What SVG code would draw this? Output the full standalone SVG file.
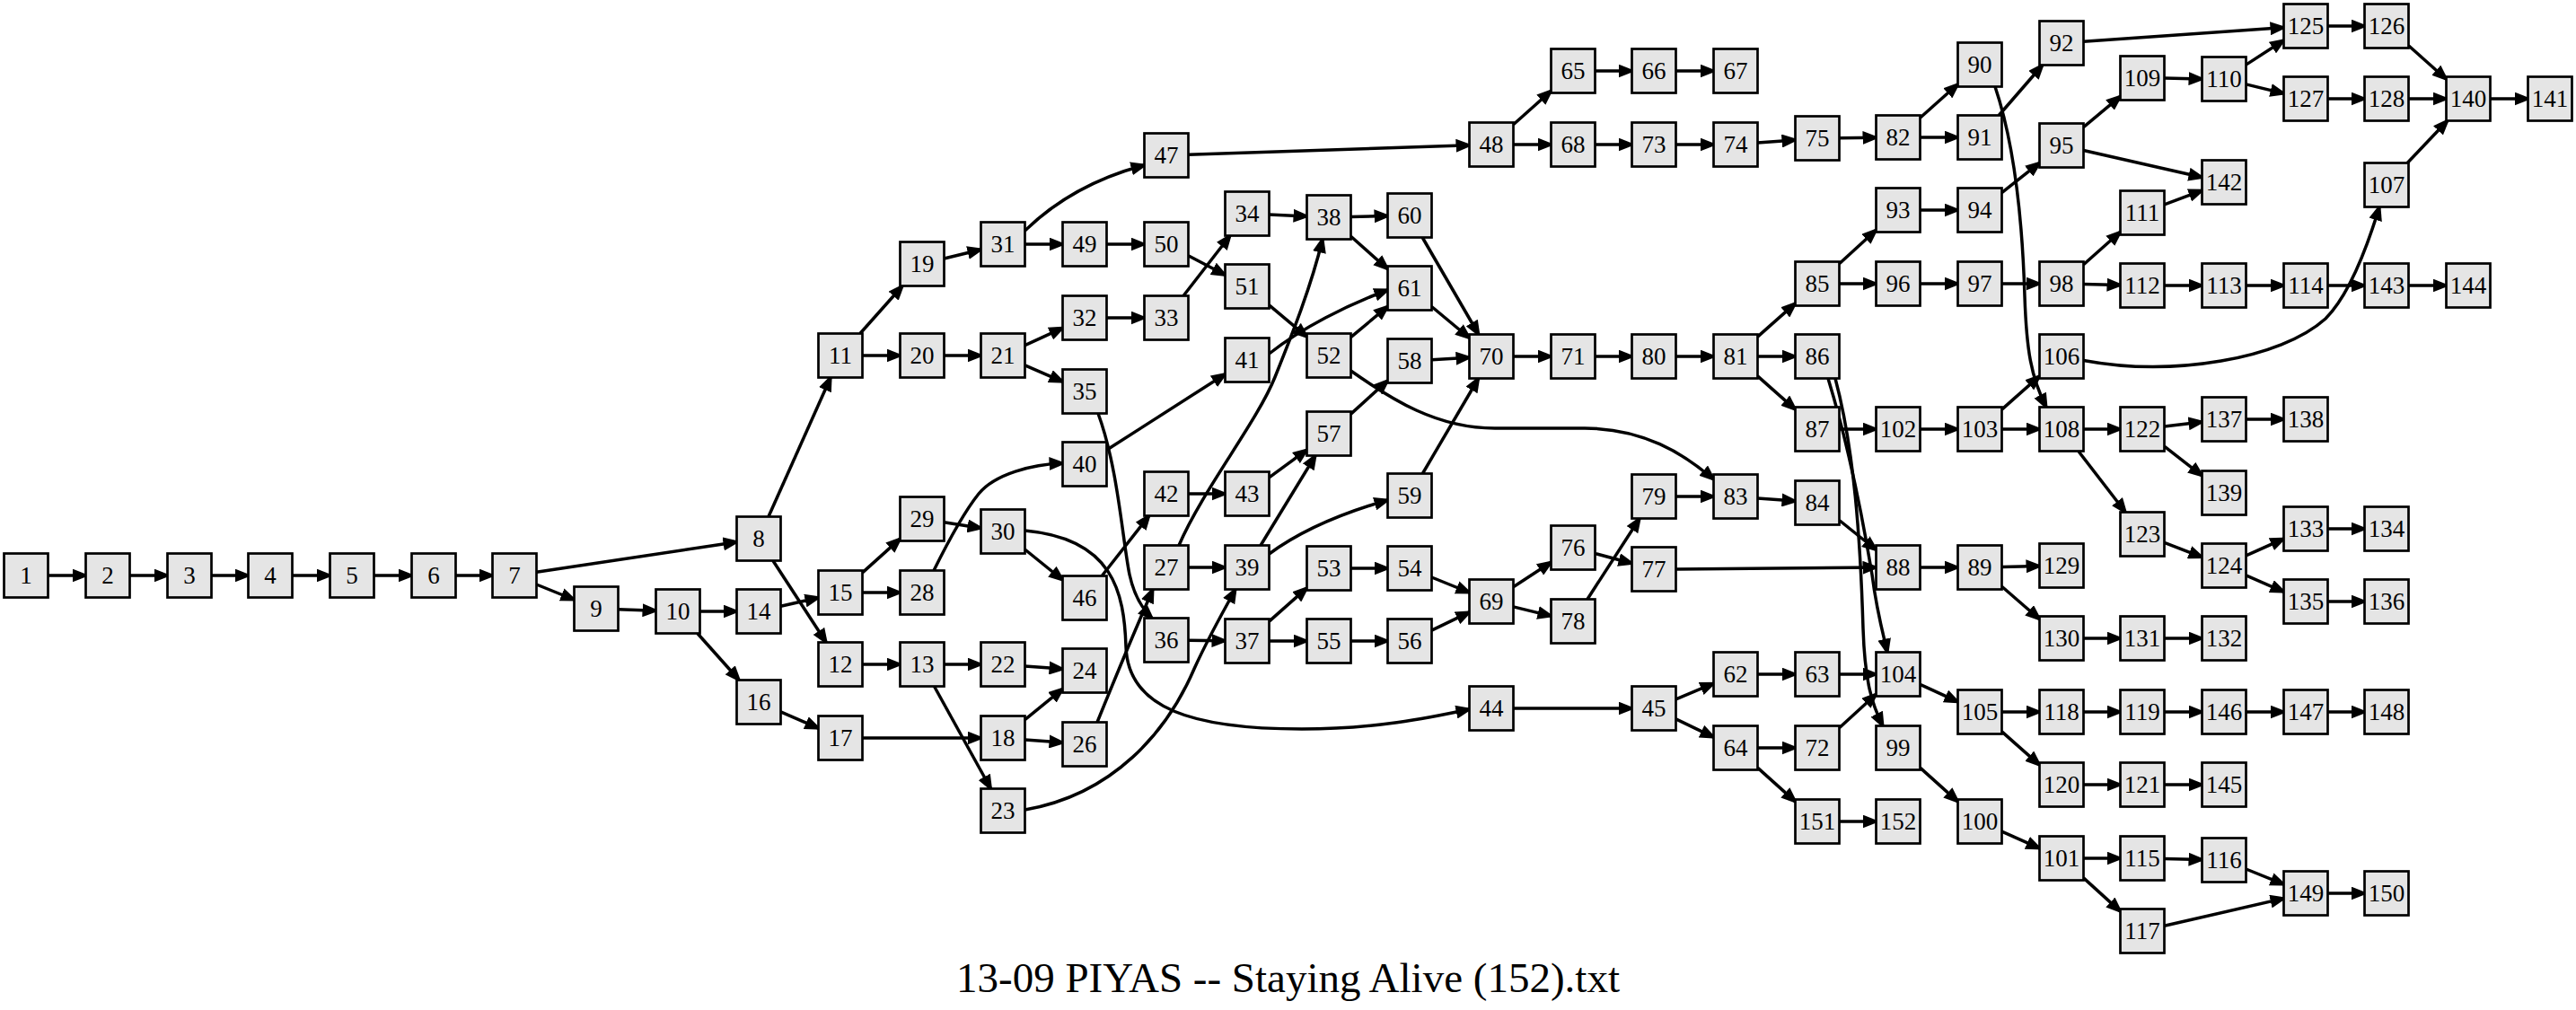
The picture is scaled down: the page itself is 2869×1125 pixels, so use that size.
<svg xmlns="http://www.w3.org/2000/svg" width="2869" height="1125" viewBox="0 0 2869 1125">
<style>
.node text{font-family:"Liberation Serif","Times New Roman",serif;font-size:27px;text-anchor:middle;fill:#000}
#edges path{fill:none;stroke:#000;stroke-width:3.5;marker-end:url(#ah)}
.title{font-family:"Liberation Serif","Times New Roman",serif;font-size:47px;text-anchor:middle;fill:#000}
</style>
<defs>
<marker id="ah" markerUnits="userSpaceOnUse" viewBox="0 0 19 15" markerWidth="19" markerHeight="15" refX="15" refY="7.5" orient="auto"><path d="M0,0 L19,7.5 L0,15 z" fill="#000"/></marker>
<rect id="bx" x="-24.5" y="-24.5" width="49" height="49" fill="#e5e5e5" stroke="#000" stroke-width="2.7"/>
</defs>
<rect width="2869" height="1125" fill="#fff"/>
<g id="edges">
<path d="M53.5,641 L95.5,641"/>
<path d="M144.5,641 L186.5,641"/>
<path d="M235.5,641 L276.5,641"/>
<path d="M325.5,641 L367.5,641"/>
<path d="M416.5,641 L458.5,641"/>
<path d="M507.5,641 L548.5,641"/>
<path d="M597.5,637.3 L820.5,603.7"/>
<path d="M597.5,651 L639.5,668"/>
<path d="M688.5,678.8 L730.5,680.2"/>
<path d="M779.5,681 L820.5,681"/>
<path d="M776.8,705.5 L823.2,757.5"/>
<path d="M855.9,575.5 L925.1,420.5"/>
<path d="M860.9,624.5 L920.1,715.5"/>
<path d="M869.5,675.3 L911.5,665.7"/>
<path d="M869.5,792.8 L911.5,811.2"/>
<path d="M957.9,371.5 L1005.1,318.5"/>
<path d="M960.5,396 L1002.5,396"/>
<path d="M960.5,637.9 L1002.5,600.1"/>
<path d="M960.5,660 L1002.5,660"/>
<path d="M960.5,740 L1002.5,740"/>
<path d="M960.5,822 L1092.5,822"/>
<path d="M1051.5,288 L1092.5,278"/>
<path d="M1051.5,396 L1092.5,396"/>
<path d="M1051.5,581.8 L1092.5,588.2"/>
<path d="M1040,635.5 C1060,595 1078,565 1090,550 C1108,528 1150,517 1183.5,516"/>
<path d="M1051.5,740 L1092.5,740"/>
<path d="M1040.5,764.5 L1103.5,878.5"/>
<path d="M1141.5,257 Q1195,205 1274.5,184"/>
<path d="M1141.5,272 L1183.5,272"/>
<path d="M1141.5,384.7 L1183.5,365.3"/>
<path d="M1141.5,406.8 L1183.5,425.2"/>
<path d="M1141.5,612 L1183.5,646"/>
<path d="M1141.5,591 C1240,600 1252,660 1254,720 C1256,790 1330,812 1450,812 C1530,812 1590,800 1636.5,790"/>
<path d="M1141.5,741.9 L1183.5,745.1"/>
<path d="M1141.5,801.7 L1183.5,767.3"/>
<path d="M1141.5,823.9 L1183.5,827.1"/>
<path d="M1141.5,902 C1240,885 1300,815 1330,745 C1345,712 1360,685 1376,656.5"/>
<path d="M1222,804.5 C1240,760 1265,700 1284,656.5"/>
<path d="M1223,460.5 C1245,520 1250,600 1258,640 C1263,663 1272,678 1283,688.5"/>
<path d="M1232.5,501.3 L1364.5,416.7"/>
<path d="M1227.2,641.5 L1279.8,574.5"/>
<path d="M1323.5,550 L1364.5,550"/>
<path d="M1313,607.5 C1340,545 1400,470 1420,420 C1440,370 1460,320 1473,266.5"/>
<path d="M1323.5,632 L1364.5,632"/>
<path d="M1323.5,713.3 L1364.5,713.7"/>
<path d="M1413.5,692.1 L1455.5,654.9"/>
<path d="M1413.5,714 L1455.5,714"/>
<path d="M1404,607.5 L1465,507.5"/>
<path d="M1413.5,531.9 L1455.5,501.1"/>
<path d="M1413.5,617 C1450,590 1500,570 1545.5,557"/>
<path d="M1413.5,394 C1450,365 1500,340 1545.5,323"/>
<path d="M1413.5,239.1 L1455.5,240.9"/>
<path d="M1504.5,241.5 L1545.5,240.5"/>
<path d="M1504.5,263.3 L1545.5,299.7"/>
<path d="M1318,329.5 L1370,262.5"/>
<path d="M1232.5,354 L1274.5,354"/>
<path d="M1232.5,272 L1274.5,272"/>
<path d="M1323.5,284.7 L1364.5,306.3"/>
<path d="M1413.5,339.8 L1455.5,375.2"/>
<path d="M1504.5,375.7 L1545.5,341.3"/>
<path d="M1504.5,413 C1550,445 1600,477 1665,477 L1765,477 C1830,477 1875,505 1908.5,534"/>
<path d="M1323.5,172.2 L1636.5,161.8"/>
<path d="M1685.5,138.8 L1727.5,101.2"/>
<path d="M1685.5,161 L1727.5,161"/>
<path d="M1776.5,79 L1817.5,79"/>
<path d="M1866.5,79 L1908.5,79"/>
<path d="M1776.5,161 L1817.5,161"/>
<path d="M1866.5,161 L1908.5,161"/>
<path d="M1957.5,159.1 L1999.5,155.9"/>
<path d="M2048.5,153.7 L2089.5,153.3"/>
<path d="M2138.5,131.2 L2180.5,93.8"/>
<path d="M2138.5,153 L2180.5,153"/>
<path d="M2226.2,128.5 L2274.8,72.5"/>
<path d="M2320.5,46.3 L2543.5,30.7"/>
<path d="M2222,96.5 C2240,150 2252,230 2255,330 C2257,390 2262,420 2279,453.5"/>
<path d="M1504.5,461.1 L1545.5,423.9"/>
<path d="M1594.5,400.7 L1636.5,398.3"/>
<path d="M1584.2,264.5 L1646.8,372.5"/>
<path d="M1594.5,341.5 L1636.5,376.5"/>
<path d="M1584.4,527.5 L1646.6,421.5"/>
<path d="M1685.5,397 L1727.5,397"/>
<path d="M1776.5,397 L1817.5,397"/>
<path d="M1866.5,397 L1908.5,397"/>
<path d="M1957.5,375.1 L1999.5,337.9"/>
<path d="M1957.5,397 L1999.5,397"/>
<path d="M1957.5,418.9 L1999.5,456.1"/>
<path d="M2048.5,293.8 L2089.5,256.2"/>
<path d="M2048.5,316 L2089.5,316"/>
<path d="M2138.5,234 L2180.5,234"/>
<path d="M2229.5,214.6 L2271.5,181.4"/>
<path d="M2320.5,141.6 L2361.5,107.4"/>
<path d="M2320.5,167.5 L2452.5,197.5"/>
<path d="M2410.5,87.1 L2452.5,87.9"/>
<path d="M2501.5,72.1 L2543.5,44.9"/>
<path d="M2501.5,93.9 L2543.5,104.1"/>
<path d="M2592.5,29 L2633.5,29"/>
<path d="M2682.5,50.8 L2724.5,88.2"/>
<path d="M2592.5,110 L2633.5,110"/>
<path d="M2682.5,110 L2724.5,110"/>
<path d="M2773.5,110 L2815.5,110"/>
<path d="M2681.2,181.5 L2725.8,134.5"/>
<path d="M2410.5,227.8 L2452.5,212.2"/>
<path d="M2138.5,316 L2180.5,316"/>
<path d="M2229.5,316 L2271.5,316"/>
<path d="M2320.5,294.7 L2361.5,258.3"/>
<path d="M2320.5,316.5 L2361.5,317.5"/>
<path d="M2410.5,318 L2452.5,318"/>
<path d="M2501.5,318 L2543.5,318"/>
<path d="M2592.5,318 L2633.5,318"/>
<path d="M2682.5,318 L2724.5,318"/>
<path d="M2320.5,401.5 C2420,420 2540,400 2590,355 C2615,330 2635,280 2650,230.5"/>
<path d="M2048.5,478 L2089.5,478"/>
<path d="M2138.5,478 L2180.5,478"/>
<path d="M2229.5,456.1 L2271.5,418.9"/>
<path d="M2229.5,478 L2271.5,478"/>
<path d="M2320.5,478 L2361.5,478"/>
<path d="M2314.8,502.5 L2367.2,570.5"/>
<path d="M2410.5,475 L2452.5,470"/>
<path d="M2410.5,497.2 L2452.5,529.8"/>
<path d="M2501.5,467 L2543.5,467"/>
<path d="M2410.5,604.4 L2452.5,620.6"/>
<path d="M2501.5,618.9 L2543.5,600.1"/>
<path d="M2501.5,640.8 L2543.5,659.2"/>
<path d="M2592.5,589 L2633.5,589"/>
<path d="M2592.5,670 L2633.5,670"/>
<path d="M2036,421.5 C2060,500 2075,580 2085,640 C2090,680 2097,705 2102,726.5"/>
<path d="M2044,421.5 C2065,500 2072,600 2075,700 C2077,760 2085,785 2097,808.5"/>
<path d="M2048.5,579.5 L2089.5,612.5"/>
<path d="M1866.5,634 L2089.5,632"/>
<path d="M1776.5,616.5 L1817.5,627.5"/>
<path d="M1685.5,653.8 L1727.5,626.2"/>
<path d="M1685.5,675.9 L1727.5,686.1"/>
<path d="M1767.9,667.5 L1826.1,577.5"/>
<path d="M1866.5,553 L1908.5,553"/>
<path d="M1957.5,554.9 L1999.5,558.1"/>
<path d="M1504.5,633 L1545.5,633"/>
<path d="M1594.5,643 L1636.5,660"/>
<path d="M1504.5,714 L1545.5,714"/>
<path d="M1594.5,702.1 L1636.5,681.9"/>
<path d="M2138.5,632 L2180.5,632"/>
<path d="M2229.5,631.5 L2271.5,630.5"/>
<path d="M2229.5,653.3 L2271.5,689.7"/>
<path d="M2320.5,711 L2361.5,711"/>
<path d="M2410.5,711 L2452.5,711"/>
<path d="M1685.5,789 L1817.5,789"/>
<path d="M1866.5,778.8 L1908.5,761.2"/>
<path d="M1866.5,800.9 L1908.5,821.1"/>
<path d="M1957.5,751 L1999.5,751"/>
<path d="M2048.5,751 L2089.5,751"/>
<path d="M1957.5,833 L1999.5,833"/>
<path d="M1957.5,855.1 L1999.5,892.9"/>
<path d="M2048.5,810.8 L2089.5,773.2"/>
<path d="M2048.5,915 L2089.5,915"/>
<path d="M2138.5,762.3 L2180.5,781.7"/>
<path d="M2229.5,793 L2271.5,793"/>
<path d="M2229.5,814.9 L2271.5,852.1"/>
<path d="M2320.5,793 L2361.5,793"/>
<path d="M2410.5,793 L2452.5,793"/>
<path d="M2501.5,793 L2543.5,793"/>
<path d="M2592.5,793 L2633.5,793"/>
<path d="M2320.5,874 L2361.5,874"/>
<path d="M2410.5,874 L2452.5,874"/>
<path d="M2138.5,855.1 L2180.5,892.9"/>
<path d="M2229.5,926.1 L2271.5,944.9"/>
<path d="M2320.5,956 L2361.5,956"/>
<path d="M2320.5,977.9 L2361.5,1015.1"/>
<path d="M2410.5,956.5 L2452.5,957.5"/>
<path d="M2501.5,968 L2543.5,985"/>
<path d="M2410.5,1031.3 L2543.5,1000.7"/>
<path d="M2592.5,995 L2633.5,995"/>
</g>
<g id="nodes">
<g id="n1" class="node" transform="translate(29,641)"><use href="#bx"/><text y="9">1</text></g>
<g id="n2" class="node" transform="translate(120,641)"><use href="#bx"/><text y="9">2</text></g>
<g id="n3" class="node" transform="translate(211,641)"><use href="#bx"/><text y="9">3</text></g>
<g id="n4" class="node" transform="translate(301,641)"><use href="#bx"/><text y="9">4</text></g>
<g id="n5" class="node" transform="translate(392,641)"><use href="#bx"/><text y="9">5</text></g>
<g id="n6" class="node" transform="translate(483,641)"><use href="#bx"/><text y="9">6</text></g>
<g id="n7" class="node" transform="translate(573,641)"><use href="#bx"/><text y="9">7</text></g>
<g id="n8" class="node" transform="translate(845,600)"><use href="#bx"/><text y="9">8</text></g>
<g id="n9" class="node" transform="translate(664,678)"><use href="#bx"/><text y="9">9</text></g>
<g id="n10" class="node" transform="translate(755,681)"><use href="#bx"/><text y="9">10</text></g>
<g id="n11" class="node" transform="translate(936,396)"><use href="#bx"/><text y="9">11</text></g>
<g id="n12" class="node" transform="translate(936,740)"><use href="#bx"/><text y="9">12</text></g>
<g id="n13" class="node" transform="translate(1027,740)"><use href="#bx"/><text y="9">13</text></g>
<g id="n14" class="node" transform="translate(845,681)"><use href="#bx"/><text y="9">14</text></g>
<g id="n15" class="node" transform="translate(936,660)"><use href="#bx"/><text y="9">15</text></g>
<g id="n16" class="node" transform="translate(845,782)"><use href="#bx"/><text y="9">16</text></g>
<g id="n17" class="node" transform="translate(936,822)"><use href="#bx"/><text y="9">17</text></g>
<g id="n18" class="node" transform="translate(1117,822)"><use href="#bx"/><text y="9">18</text></g>
<g id="n19" class="node" transform="translate(1027,294)"><use href="#bx"/><text y="9">19</text></g>
<g id="n20" class="node" transform="translate(1027,396)"><use href="#bx"/><text y="9">20</text></g>
<g id="n21" class="node" transform="translate(1117,396)"><use href="#bx"/><text y="9">21</text></g>
<g id="n22" class="node" transform="translate(1117,740)"><use href="#bx"/><text y="9">22</text></g>
<g id="n23" class="node" transform="translate(1117,903)"><use href="#bx"/><text y="9">23</text></g>
<g id="n24" class="node" transform="translate(1208,747)"><use href="#bx"/><text y="9">24</text></g>
<g id="n26" class="node" transform="translate(1208,829)"><use href="#bx"/><text y="9">26</text></g>
<g id="n27" class="node" transform="translate(1299,632)"><use href="#bx"/><text y="9">27</text></g>
<g id="n28" class="node" transform="translate(1027,660)"><use href="#bx"/><text y="9">28</text></g>
<g id="n29" class="node" transform="translate(1027,578)"><use href="#bx"/><text y="9">29</text></g>
<g id="n30" class="node" transform="translate(1117,592)"><use href="#bx"/><text y="9">30</text></g>
<g id="n31" class="node" transform="translate(1117,272)"><use href="#bx"/><text y="9">31</text></g>
<g id="n32" class="node" transform="translate(1208,354)"><use href="#bx"/><text y="9">32</text></g>
<g id="n33" class="node" transform="translate(1299,354)"><use href="#bx"/><text y="9">33</text></g>
<g id="n34" class="node" transform="translate(1389,238)"><use href="#bx"/><text y="9">34</text></g>
<g id="n35" class="node" transform="translate(1208,436)"><use href="#bx"/><text y="9">35</text></g>
<g id="n36" class="node" transform="translate(1299,713)"><use href="#bx"/><text y="9">36</text></g>
<g id="n37" class="node" transform="translate(1389,714)"><use href="#bx"/><text y="9">37</text></g>
<g id="n38" class="node" transform="translate(1480,242)"><use href="#bx"/><text y="9">38</text></g>
<g id="n39" class="node" transform="translate(1389,632)"><use href="#bx"/><text y="9">39</text></g>
<g id="n40" class="node" transform="translate(1208,517)"><use href="#bx"/><text y="9">40</text></g>
<g id="n41" class="node" transform="translate(1389,401)"><use href="#bx"/><text y="9">41</text></g>
<g id="n42" class="node" transform="translate(1299,550)"><use href="#bx"/><text y="9">42</text></g>
<g id="n43" class="node" transform="translate(1389,550)"><use href="#bx"/><text y="9">43</text></g>
<g id="n44" class="node" transform="translate(1661,789)"><use href="#bx"/><text y="9">44</text></g>
<g id="n45" class="node" transform="translate(1842,789)"><use href="#bx"/><text y="9">45</text></g>
<g id="n46" class="node" transform="translate(1208,666)"><use href="#bx"/><text y="9">46</text></g>
<g id="n47" class="node" transform="translate(1299,173)"><use href="#bx"/><text y="9">47</text></g>
<g id="n48" class="node" transform="translate(1661,161)"><use href="#bx"/><text y="9">48</text></g>
<g id="n49" class="node" transform="translate(1208,272)"><use href="#bx"/><text y="9">49</text></g>
<g id="n50" class="node" transform="translate(1299,272)"><use href="#bx"/><text y="9">50</text></g>
<g id="n51" class="node" transform="translate(1389,319)"><use href="#bx"/><text y="9">51</text></g>
<g id="n52" class="node" transform="translate(1480,396)"><use href="#bx"/><text y="9">52</text></g>
<g id="n53" class="node" transform="translate(1480,633)"><use href="#bx"/><text y="9">53</text></g>
<g id="n54" class="node" transform="translate(1570,633)"><use href="#bx"/><text y="9">54</text></g>
<g id="n55" class="node" transform="translate(1480,714)"><use href="#bx"/><text y="9">55</text></g>
<g id="n56" class="node" transform="translate(1570,714)"><use href="#bx"/><text y="9">56</text></g>
<g id="n57" class="node" transform="translate(1480,483)"><use href="#bx"/><text y="9">57</text></g>
<g id="n58" class="node" transform="translate(1570,402)"><use href="#bx"/><text y="9">58</text></g>
<g id="n59" class="node" transform="translate(1570,552)"><use href="#bx"/><text y="9">59</text></g>
<g id="n60" class="node" transform="translate(1570,240)"><use href="#bx"/><text y="9">60</text></g>
<g id="n61" class="node" transform="translate(1570,321)"><use href="#bx"/><text y="9">61</text></g>
<g id="n62" class="node" transform="translate(1933,751)"><use href="#bx"/><text y="9">62</text></g>
<g id="n63" class="node" transform="translate(2024,751)"><use href="#bx"/><text y="9">63</text></g>
<g id="n64" class="node" transform="translate(1933,833)"><use href="#bx"/><text y="9">64</text></g>
<g id="n65" class="node" transform="translate(1752,79)"><use href="#bx"/><text y="9">65</text></g>
<g id="n66" class="node" transform="translate(1842,79)"><use href="#bx"/><text y="9">66</text></g>
<g id="n67" class="node" transform="translate(1933,79)"><use href="#bx"/><text y="9">67</text></g>
<g id="n68" class="node" transform="translate(1752,161)"><use href="#bx"/><text y="9">68</text></g>
<g id="n69" class="node" transform="translate(1661,670)"><use href="#bx"/><text y="9">69</text></g>
<g id="n70" class="node" transform="translate(1661,397)"><use href="#bx"/><text y="9">70</text></g>
<g id="n71" class="node" transform="translate(1752,397)"><use href="#bx"/><text y="9">71</text></g>
<g id="n72" class="node" transform="translate(2024,833)"><use href="#bx"/><text y="9">72</text></g>
<g id="n73" class="node" transform="translate(1842,161)"><use href="#bx"/><text y="9">73</text></g>
<g id="n74" class="node" transform="translate(1933,161)"><use href="#bx"/><text y="9">74</text></g>
<g id="n75" class="node" transform="translate(2024,154)"><use href="#bx"/><text y="9">75</text></g>
<g id="n76" class="node" transform="translate(1752,610)"><use href="#bx"/><text y="9">76</text></g>
<g id="n77" class="node" transform="translate(1842,634)"><use href="#bx"/><text y="9">77</text></g>
<g id="n78" class="node" transform="translate(1752,692)"><use href="#bx"/><text y="9">78</text></g>
<g id="n79" class="node" transform="translate(1842,553)"><use href="#bx"/><text y="9">79</text></g>
<g id="n80" class="node" transform="translate(1842,397)"><use href="#bx"/><text y="9">80</text></g>
<g id="n81" class="node" transform="translate(1933,397)"><use href="#bx"/><text y="9">81</text></g>
<g id="n82" class="node" transform="translate(2114,153)"><use href="#bx"/><text y="9">82</text></g>
<g id="n83" class="node" transform="translate(1933,553)"><use href="#bx"/><text y="9">83</text></g>
<g id="n84" class="node" transform="translate(2024,560)"><use href="#bx"/><text y="9">84</text></g>
<g id="n85" class="node" transform="translate(2024,316)"><use href="#bx"/><text y="9">85</text></g>
<g id="n86" class="node" transform="translate(2024,397)"><use href="#bx"/><text y="9">86</text></g>
<g id="n87" class="node" transform="translate(2024,478)"><use href="#bx"/><text y="9">87</text></g>
<g id="n88" class="node" transform="translate(2114,632)"><use href="#bx"/><text y="9">88</text></g>
<g id="n89" class="node" transform="translate(2205,632)"><use href="#bx"/><text y="9">89</text></g>
<g id="n90" class="node" transform="translate(2205,72)"><use href="#bx"/><text y="9">90</text></g>
<g id="n91" class="node" transform="translate(2205,153)"><use href="#bx"/><text y="9">91</text></g>
<g id="n92" class="node" transform="translate(2296,48)"><use href="#bx"/><text y="9">92</text></g>
<g id="n93" class="node" transform="translate(2114,234)"><use href="#bx"/><text y="9">93</text></g>
<g id="n94" class="node" transform="translate(2205,234)"><use href="#bx"/><text y="9">94</text></g>
<g id="n95" class="node" transform="translate(2296,162)"><use href="#bx"/><text y="9">95</text></g>
<g id="n96" class="node" transform="translate(2114,316)"><use href="#bx"/><text y="9">96</text></g>
<g id="n97" class="node" transform="translate(2205,316)"><use href="#bx"/><text y="9">97</text></g>
<g id="n98" class="node" transform="translate(2296,316)"><use href="#bx"/><text y="9">98</text></g>
<g id="n99" class="node" transform="translate(2114,833)"><use href="#bx"/><text y="9">99</text></g>
<g id="n100" class="node" transform="translate(2205,915)"><use href="#bx"/><text y="9">100</text></g>
<g id="n101" class="node" transform="translate(2296,956)"><use href="#bx"/><text y="9">101</text></g>
<g id="n102" class="node" transform="translate(2114,478)"><use href="#bx"/><text y="9">102</text></g>
<g id="n103" class="node" transform="translate(2205,478)"><use href="#bx"/><text y="9">103</text></g>
<g id="n104" class="node" transform="translate(2114,751)"><use href="#bx"/><text y="9">104</text></g>
<g id="n105" class="node" transform="translate(2205,793)"><use href="#bx"/><text y="9">105</text></g>
<g id="n106" class="node" transform="translate(2296,397)"><use href="#bx"/><text y="9">106</text></g>
<g id="n107" class="node" transform="translate(2658,206)"><use href="#bx"/><text y="9">107</text></g>
<g id="n108" class="node" transform="translate(2296,478)"><use href="#bx"/><text y="9">108</text></g>
<g id="n109" class="node" transform="translate(2386,87)"><use href="#bx"/><text y="9">109</text></g>
<g id="n110" class="node" transform="translate(2477,88)"><use href="#bx"/><text y="9">110</text></g>
<g id="n111" class="node" transform="translate(2386,237)"><use href="#bx"/><text y="9">111</text></g>
<g id="n112" class="node" transform="translate(2386,318)"><use href="#bx"/><text y="9">112</text></g>
<g id="n113" class="node" transform="translate(2477,318)"><use href="#bx"/><text y="9">113</text></g>
<g id="n114" class="node" transform="translate(2568,318)"><use href="#bx"/><text y="9">114</text></g>
<g id="n115" class="node" transform="translate(2386,956)"><use href="#bx"/><text y="9">115</text></g>
<g id="n116" class="node" transform="translate(2477,958)"><use href="#bx"/><text y="9">116</text></g>
<g id="n117" class="node" transform="translate(2386,1037)"><use href="#bx"/><text y="9">117</text></g>
<g id="n118" class="node" transform="translate(2296,793)"><use href="#bx"/><text y="9">118</text></g>
<g id="n119" class="node" transform="translate(2386,793)"><use href="#bx"/><text y="9">119</text></g>
<g id="n120" class="node" transform="translate(2296,874)"><use href="#bx"/><text y="9">120</text></g>
<g id="n121" class="node" transform="translate(2386,874)"><use href="#bx"/><text y="9">121</text></g>
<g id="n122" class="node" transform="translate(2386,478)"><use href="#bx"/><text y="9">122</text></g>
<g id="n123" class="node" transform="translate(2386,595)"><use href="#bx"/><text y="9">123</text></g>
<g id="n124" class="node" transform="translate(2477,630)"><use href="#bx"/><text y="9">124</text></g>
<g id="n125" class="node" transform="translate(2568,29)"><use href="#bx"/><text y="9">125</text></g>
<g id="n126" class="node" transform="translate(2658,29)"><use href="#bx"/><text y="9">126</text></g>
<g id="n127" class="node" transform="translate(2568,110)"><use href="#bx"/><text y="9">127</text></g>
<g id="n128" class="node" transform="translate(2658,110)"><use href="#bx"/><text y="9">128</text></g>
<g id="n129" class="node" transform="translate(2296,630)"><use href="#bx"/><text y="9">129</text></g>
<g id="n130" class="node" transform="translate(2296,711)"><use href="#bx"/><text y="9">130</text></g>
<g id="n131" class="node" transform="translate(2386,711)"><use href="#bx"/><text y="9">131</text></g>
<g id="n132" class="node" transform="translate(2477,711)"><use href="#bx"/><text y="9">132</text></g>
<g id="n133" class="node" transform="translate(2568,589)"><use href="#bx"/><text y="9">133</text></g>
<g id="n134" class="node" transform="translate(2658,589)"><use href="#bx"/><text y="9">134</text></g>
<g id="n135" class="node" transform="translate(2568,670)"><use href="#bx"/><text y="9">135</text></g>
<g id="n136" class="node" transform="translate(2658,670)"><use href="#bx"/><text y="9">136</text></g>
<g id="n137" class="node" transform="translate(2477,467)"><use href="#bx"/><text y="9">137</text></g>
<g id="n138" class="node" transform="translate(2568,467)"><use href="#bx"/><text y="9">138</text></g>
<g id="n139" class="node" transform="translate(2477,549)"><use href="#bx"/><text y="9">139</text></g>
<g id="n140" class="node" transform="translate(2749,110)"><use href="#bx"/><text y="9">140</text></g>
<g id="n141" class="node" transform="translate(2840,110)"><use href="#bx"/><text y="9">141</text></g>
<g id="n142" class="node" transform="translate(2477,203)"><use href="#bx"/><text y="9">142</text></g>
<g id="n143" class="node" transform="translate(2658,318)"><use href="#bx"/><text y="9">143</text></g>
<g id="n144" class="node" transform="translate(2749,318)"><use href="#bx"/><text y="9">144</text></g>
<g id="n145" class="node" transform="translate(2477,874)"><use href="#bx"/><text y="9">145</text></g>
<g id="n146" class="node" transform="translate(2477,793)"><use href="#bx"/><text y="9">146</text></g>
<g id="n147" class="node" transform="translate(2568,793)"><use href="#bx"/><text y="9">147</text></g>
<g id="n148" class="node" transform="translate(2658,793)"><use href="#bx"/><text y="9">148</text></g>
<g id="n149" class="node" transform="translate(2568,995)"><use href="#bx"/><text y="9">149</text></g>
<g id="n150" class="node" transform="translate(2658,995)"><use href="#bx"/><text y="9">150</text></g>
<g id="n151" class="node" transform="translate(2024,915)"><use href="#bx"/><text y="9">151</text></g>
<g id="n152" class="node" transform="translate(2114,915)"><use href="#bx"/><text y="9">152</text></g>
</g>
<text class="title" x="1434.5" y="1105">13-09 PIYAS -- Staying Alive (152).txt</text>
</svg>
